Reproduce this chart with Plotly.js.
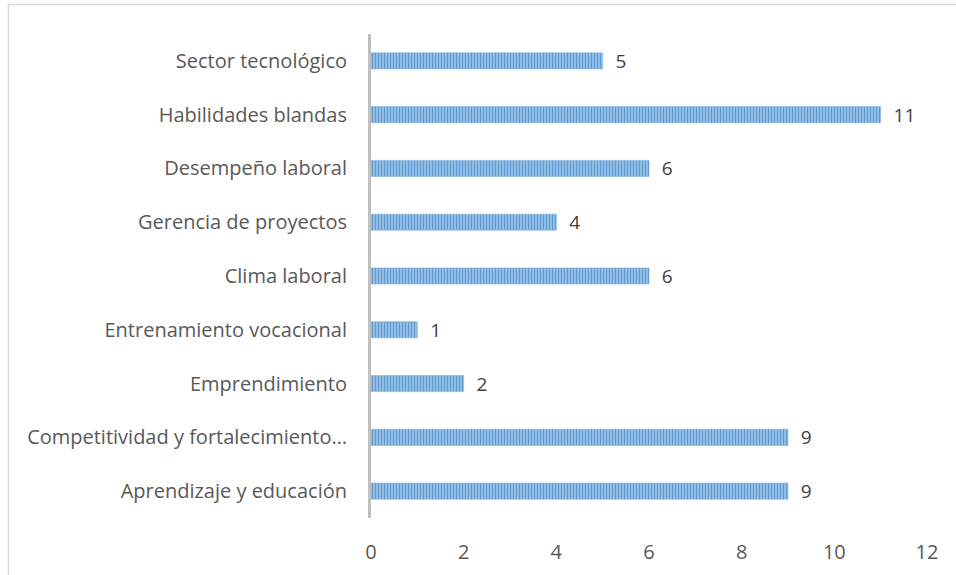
<!DOCTYPE html>
<html>
<head>
<meta charset="utf-8">
<script src="https://cdn.plot.ly/plotly-3.0.1.min.js"></script>
<style>html,body{margin:0;padding:0;background:#fff;}#chart{width:956px;height:575px;}</style>
</head>
<body>
<div id="chart"></div>
<script>
const categories = [
  "Sector tecnológico",
  "Habilidades blandas",
  "Desempeño laboral",
  "Gerencia de proyectos",
  "Clima laboral",
  "Entrenamiento vocacional",
  "Emprendimiento",
  "Competitividad y fortalecimiento…",
  "Aprendizaje y educación"
];
const values = [5, 11, 6, 4, 6, 1, 2, 9, 9];
const xTicks = [0, 2, 4, 6, 8, 10, 12];

const L = 371, R = 927, T = 34, B = 518, W = 956, H = 575;
const pw = R - L, ph = B - T;

const trace = {
  type: 'bar',
  orientation: 'h',
  y: categories,
  x: values,
  text: values.map(v => String(v)),
  texttemplate: '  %{text}',
  textposition: 'outside',
  constraintext: 'none',
  cliponaxis: false,
  textfont: {family: 'Open Sans, sans-serif', size: 19, color: '#404040'},
  marker: {
    color: '#a7c8ea',
    line: {color: '#6fa6dc', width: 0.5},
    pattern: {shape: '|', fgcolor: '#5b9bd5', bgcolor: '#a7c8ea', size: 3, solidity: 0.5}
  },
  hoverinfo: 'none'
};

const layout = {
  width: W, height: H,
  margin: {l: L, r: W - R, t: T, b: H - B, pad: 0},
  paper_bgcolor: '#ffffff',
  plot_bgcolor: '#ffffff',
  showlegend: false,
  bargap: 0.7,
  font: {family: 'Open Sans, sans-serif', color: '#595959', size: 19},
  xaxis: {
    range: [0, 12],
    tickmode: 'array',
    tickvals: xTicks,
    ticktext: xTicks.map(String),
    showgrid: false, zeroline: false, showline: false,
    ticks: '', ticklabelstandoff: 20,
    tickfont: {family: 'Open Sans, sans-serif', size: 20, color: '#595959'},
    fixedrange: true
  },
  yaxis: {
    type: 'category',
    autorange: 'reversed',
    showgrid: false, zeroline: false,
    showline: true, linecolor: '#bfbfbf', linewidth: 3,
    ticks: '', ticklabelstandoff: 17,
    tickfont: {family: 'Open Sans, sans-serif', size: 20, color: '#595959'},
    fixedrange: true
  },
  shapes: [{
    type: 'rect', xref: 'paper', yref: 'paper',
    x0: (8.5 - L) / pw, x1: (W + 10 - L) / pw,
    y0: -(H + 10 - B) / ph, y1: 1 + (T - 4.5) / ph,
    line: {color: '#d9d9d9', width: 1.5}, fillcolor: 'rgba(0,0,0,0)', layer: 'below'
  }]
};

Plotly.newPlot('chart', [trace], layout, {staticPlot: true, displayModeBar: false});
</script>
</body>
</html>
